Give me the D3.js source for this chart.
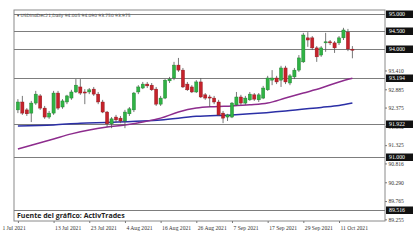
<!DOCTYPE html>
<html>
<head>
<meta charset="utf-8">
<script src="https://cdn.jsdelivr.net/npm/d3@7"></script>
<style>
  body { margin: 0; background: #fff; }
</style>
</head>
<body>
<div id="chart"></div>
<script>
// USDInd Dec21 daily candles, 1 Jul - 14 Oct 2021
var open = [92.31, 92.53, 92.31, 92.22, 92.50, 92.70, 92.36, 92.11, 92.22, 92.78,
  92.39, 92.53, 92.64, 92.81, 92.95, 92.81, 92.81, 92.89, 92.75, 92.53,
  92.25, 91.92, 92.11, 92.08, 92.00, 92.20, 92.31, 92.81, 92.92, 93.03,
  93.00, 92.89, 92.47, 92.64, 93.12, 93.20, 93.56, 93.42, 93.03, 92.95,
  92.81, 93.09, 92.73, 92.67, 92.64, 92.53, 92.22, 92.11, 92.11, 92.45,
  92.67, 92.50, 92.59, 92.73, 92.59, 92.64, 92.87, 93.14, 93.20, 93.14,
  93.48, 93.06, 93.23, 93.42, 93.65, 94.32, 94.32, 94.04, 93.84, 94.18,
  94.21, 94.18, 94.18, 94.32, 94.48, 94.005];
var high = [92.61, 92.70, 92.36, 92.56, 92.84, 92.75, 92.42, 92.28, 92.84, 92.84,
  92.61, 92.73, 92.87, 93.17, 93.17, 92.89, 92.92, 92.95, 92.81, 92.59,
  92.28, 92.11, 92.17, 92.14, 92.31, 92.39, 92.81, 93.00, 93.09, 93.09,
  93.06, 92.95, 92.70, 93.17, 93.23, 93.65, 93.76, 93.48, 93.09, 93.00,
  93.14, 93.20, 92.78, 92.73, 92.70, 92.59, 92.28, 92.20, 92.53, 92.81,
  92.73, 92.70, 92.81, 92.78, 92.78, 92.98, 93.26, 93.42, 93.26, 93.54,
  93.54, 93.31, 93.48, 93.84, 94.46, 94.48, 94.37, 94.09, 94.09, 94.46,
  94.26, 94.23, 94.37, 94.60, 94.57, 94.09];
var low = [92.22, 92.17, 92.14, 91.97, 92.45, 92.31, 92.06, 92.06, 92.17, 92.31,
  92.34, 92.47, 92.59, 92.78, 92.73, 92.47, 92.75, 92.70, 92.47, 92.22,
  91.83, 91.80, 91.97, 91.94, 91.80, 92.14, 92.25, 92.75, 92.89, 92.92,
  92.84, 92.42, 92.42, 92.61, 93.06, 93.14, 93.37, 92.92, 92.84, 92.78,
  92.78, 92.64, 92.59, 92.39, 92.47, 92.14, 91.94, 92.00, 92.08, 92.42,
  92.45, 92.45, 92.56, 92.56, 92.53, 92.61, 92.84, 93.00, 93.03, 92.95,
  93.03, 93.00, 93.17, 93.37, 93.62, 94.07, 93.98, 93.65, 93.79, 93.93,
  94.12, 93.90, 94.12, 94.26, 93.95, 93.75];
var close = [92.53, 92.22, 92.20, 92.50, 92.75, 92.36, 92.11, 92.22, 92.78, 92.36,
  92.56, 92.70, 92.81, 93.00, 92.78, 92.78, 92.87, 92.75, 92.53, 92.25,
  91.92, 92.06, 92.03, 92.00, 92.25, 92.34, 92.78, 92.95, 93.03, 92.98,
  92.87, 92.47, 92.64, 93.14, 93.17, 93.56, 93.42, 92.95, 92.87, 92.81,
  93.09, 92.67, 92.64, 92.64, 92.53, 92.17, 92.08, 92.17, 92.50, 92.67,
  92.50, 92.64, 92.75, 92.61, 92.73, 92.92, 93.20, 93.20, 93.09, 93.48,
  93.09, 93.26, 93.42, 93.76, 94.40, 94.26, 94.04, 93.79, 94.04, 94.21,
  94.18, 94.04, 94.32, 94.54, 94.01, 93.975];

// moving averages, read at a few bars
var maFastIdx = [0, 4, 8, 12, 16, 20, 24, 28, 32, 36, 40, 44, 48, 52, 56, 60, 64, 68, 72, 75];
var maFast = [91.22, 91.36, 91.50, 91.64, 91.75, 91.83, 91.89, 91.97, 92.08, 92.25,
  92.36, 92.40, 92.42, 92.45, 92.50, 92.64, 92.78, 92.92, 93.09, 93.194];
var maSlowIdx = [0, 8, 14, 20, 28, 32, 40, 48, 52, 60, 68, 72, 75];
var maSlow = [91.86, 91.89, 91.94, 91.96, 92.00, 92.03, 92.13, 92.17, 92.20, 92.28, 92.38, 92.43, 92.50];

var levels = [95.000, 94.500, 94.000, 93.194, 91.922, 91.000, 89.516];
var priceTicks = [93.410, 92.885, 92.375, 91.850, 91.325, 90.816, 90.290, 89.765, 89.255];
var tickDates = ["2021-07-01", "2021-07-13", "2021-07-23", "2021-08-04", "2021-08-16",
  "2021-08-26", "2021-09-07", "2021-09-17", "2021-09-29", "2021-10-11"];

var title = "USDIndDec21,Daily  94.005 94.090 93.750 93.975";
var source = "Fuente del gráfico: ActivTrades";

var W = 420, H = 242;
var plot = { left: 14, right: 385, top: 10, bottom: 221 };

// trading days (weekdays) of the period
var iso = d3.utcFormat("%Y-%m-%d");
var days = d3.utcDay.range(new Date(Date.UTC(2021, 6, 1)), new Date(Date.UTC(2021, 9, 15)))
  .filter(function(d) { return d.getUTCDay() > 0 && d.getUTCDay() < 6; })
  .map(iso);

var bars = days.map(function(d, i) {
  return { date: d, o: open[i], h: high[i], l: low[i], c: close[i] };
});

var x = d3.scalePoint().domain(days).range([17.9, 352.4]);
var y = d3.scaleLinear().domain([95, 89.516]).range([13.5, 210]);

var svg = d3.select("#chart").append("svg")
  .attr("width", W).attr("height", H)
  .style("font-family", "'Liberation Serif', serif");

// frame
svg.append("rect")
  .attr("x", plot.left).attr("y", plot.top)
  .attr("width", plot.right - plot.left).attr("height", plot.bottom - plot.top)
  .attr("fill", "#fff").attr("stroke", "#8a8a8a").attr("stroke-width", 1);

// horizontal levels
svg.append("g").selectAll("line").data(levels).enter().append("line")
  .attr("x1", plot.left).attr("x2", plot.right)
  .attr("y1", function(d) { return Math.round(y(d)) + 0.5; })
  .attr("y2", function(d) { return Math.round(y(d)) + 0.5; })
  .attr("stroke", "#7d7d7d").attr("stroke-width", 1);

// moving averages
var line = d3.line().curve(d3.curveMonotoneX)
  .x(function(d) { return x(days[d[0]]); })
  .y(function(d) { return y(d[1]); });

svg.append("path")
  .attr("d", line(maSlowIdx.map(function(k, i) { return [k, maSlow[i]]; })))
  .attr("fill", "none").attr("stroke", "#2b2fa6").attr("stroke-width", 1.5);

svg.append("path")
  .attr("d", line(maFastIdx.map(function(k, i) { return [k, maFast[i]]; })))
  .attr("fill", "none").attr("stroke", "#8d2c8d").attr("stroke-width", 1.5);

// candles
var candles = svg.append("g").selectAll("g").data(bars).enter().append("g");

candles.append("line")
  .attr("x1", function(d) { return x(d.date); })
  .attr("x2", function(d) { return x(d.date); })
  .attr("y1", function(d) { return y(d.h); })
  .attr("y2", function(d) { return y(d.l); })
  .attr("stroke", "#555").attr("stroke-width", 0.8);

candles.append("rect")
  .attr("x", function(d) { return x(d.date) - 1.6; })
  .attr("width", 3.2)
  .attr("y", function(d) { return y(Math.max(d.o, d.c)); })
  .attr("height", function(d) { return Math.max(0.8, Math.abs(y(d.o) - y(d.c))); })
  .attr("fill", function(d) { return d.c >= d.o ? "#2fb344" : "#c5222b"; })
  .attr("stroke", function(d) { return d.c >= d.o ? "#1f7a2d" : "#8a161c"; })
  .attr("stroke-width", 0.4);

// right price axis
var yAxis = d3.axisRight(y).tickValues(priceTicks).tickSize(2)
  .tickFormat(d3.format(".3f"));
var ya = svg.append("g").attr("transform", "translate(" + plot.right + ",0)").call(yAxis);
ya.select(".domain").remove();
ya.selectAll("line").attr("stroke", "#777");
ya.selectAll("text").attr("x", 3.5).attr("font-size", "5.6px").attr("fill", "#333")
  .attr("font-family", "'Liberation Serif', serif");

// highlighted levels on the axis
var tags = svg.append("g").selectAll("g").data(levels).enter().append("g")
  .attr("transform", function(d) { return "translate(" + (plot.right + 1) + "," + Math.round(y(d)) + ")"; });
tags.append("rect")
  .attr("x", 0).attr("y", -3.5).attr("width", 27).attr("height", 7.5)
  .attr("fill", "#111");
tags.append("text")
  .attr("x", 3).attr("y", 2.3)
  .attr("font-size", "5.8px").attr("fill", "#fff")
  .text(d3.format(".3f"));

// bottom date axis
var xAxis = d3.axisBottom(x).tickValues(tickDates).tickSize(2)
  .tickFormat(function(d) { return d3.utcFormat("%-d %b %Y")(new Date(d + "T00:00:00Z")); });
var xa = svg.append("g").attr("transform", "translate(0," + plot.bottom + ")").call(xAxis);
xa.select(".domain").remove();
xa.selectAll("line").attr("stroke", "#777");
xa.selectAll("text")
  .attr("text-anchor", "start").attr("x", 1).attr("y", 5).attr("dy", "0.71em")
  .attr("font-size", "5.6px").attr("fill", "#333")
  .attr("font-family", "'Liberation Serif', serif");
xa.select(".tick text").attr("x", -16);

// title and source
svg.append("text")
  .attr("x", 17).attr("y", 16.5)
  .attr("font-size", "4.4px").attr("fill", "#444")
  .attr("font-family", "'DejaVu Sans', sans-serif")
  .text("\u25BE " + title);

svg.append("text")
  .attr("x", 17).attr("y", 218)
  .attr("font-size", "7px").attr("font-weight", "bold").attr("fill", "#222")
  .attr("font-family", "'Open Sans', sans-serif")
  .text(source);
</script>
</body>
</html>
